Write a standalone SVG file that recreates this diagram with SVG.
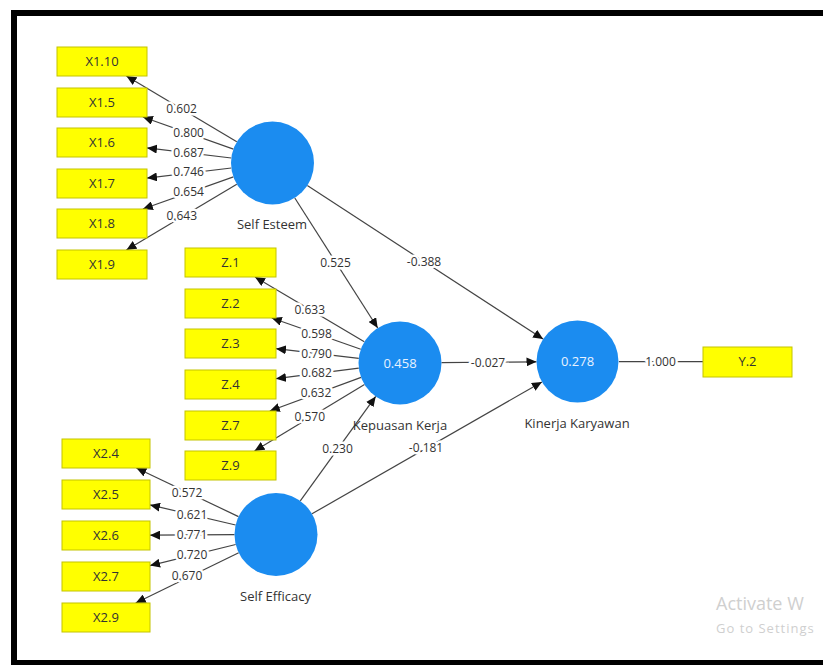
<svg xmlns="http://www.w3.org/2000/svg" width="823" height="665" viewBox="0 0 823 665">
<defs>
<marker id="ah" markerUnits="userSpaceOnUse" markerWidth="11" markerHeight="9" refX="10" refY="4.5" orient="auto">
<path d="M0,0 L10,4.5 L0,9 z" fill="#111"/>
</marker>
<style>
.box{fill:#ffff00;stroke:#c4c400;stroke-width:1}
.bt{font-family:"Open Sans","Noto Sans",sans-serif;font-size:13px;fill:#333;text-anchor:middle}
.lv{fill:#1b8cf0}
.lt{font-family:"Open Sans","Noto Sans",sans-serif;font-size:13px;fill:#333;text-anchor:middle}
.r2{font-family:"Open Sans","Noto Sans",sans-serif;font-size:13px;fill:#e8f2ff;text-anchor:middle}
.c{stroke:#444;stroke-width:1.2;fill:none}
.a{marker-end:url(#ah)}
.w{font-family:"Open Sans","Noto Sans",sans-serif;font-size:12px;fill:#333;text-anchor:middle;stroke:#fff;stroke-width:5;paint-order:stroke;stroke-linejoin:round}
.wm{font-family:"Open Sans","Noto Sans",sans-serif;fill:#cfcfcf}
</style>
</defs>
<rect x="0" y="0" width="823" height="665" fill="#fff"/>
<rect x="14" y="13" width="840" height="650" fill="#fff" stroke="#000" stroke-width="6"/>

<g id="connectors">
<line class="c a" x1="236.8" y1="141.8" x2="126.4" y2="76"/>
<line class="c a" x1="233.4" y1="149.1" x2="142.9" y2="117"/>
<line class="c a" x1="231.3" y1="158" x2="147" y2="147.9"/>
<line class="c a" x1="231.3" y1="168" x2="147" y2="178.1"/>
<line class="c a" x1="233.4" y1="176.9" x2="142.9" y2="209"/>
<line class="c a" x1="236.8" y1="184.2" x2="126.4" y2="250"/>

<line class="c a" x1="364.3" y1="341.8" x2="255" y2="277"/>
<line class="c a" x1="360.8" y1="349.3" x2="271.8" y2="318"/>
<line class="c a" x1="358.8" y1="358.3" x2="276" y2="348.7"/>
<line class="c a" x1="358.8" y1="368.2" x2="276" y2="378.7"/>
<line class="c a" x1="361.1" y1="377.4" x2="269.8" y2="411"/>
<line class="c a" x1="364.5" y1="384.5" x2="254.5" y2="451"/>

<line class="c a" x1="238.5" y1="516.6" x2="136.4" y2="468"/>
<line class="c a" x1="235.6" y1="525" x2="150" y2="504.9"/>
<line class="c a" x1="234.5" y1="534.7" x2="150" y2="535.2"/>
<line class="c a" x1="235.7" y1="544.5" x2="150" y2="565.6"/>
<line class="c a" x1="238.7" y1="552.7" x2="135.7" y2="603"/>

<line class="c a" x1="294.8" y1="198" x2="377.7" y2="328"/>
<line class="c a" x1="307.3" y1="185.6" x2="543.1" y2="339.1"/>
<line class="c a" x1="441.5" y1="362.6" x2="536.5" y2="361.8"/>
<line class="c a" x1="300.3" y1="500.9" x2="375.7" y2="396.4"/>
<line class="c a" x1="312" y1="513.8" x2="541.9" y2="381.9"/>
<line class="c" x1="619" y1="361.6" x2="703" y2="361.6"/>

<text class="w" x="181.6" y="113">0.602</text>
<text class="w" x="188.6" y="137">0.800</text>
<text class="w" x="188.6" y="157">0.687</text>
<text class="w" x="188.6" y="176">0.746</text>
<text class="w" x="188.6" y="196">0.654</text>
<text class="w" x="181.8" y="220">0.643</text>

<text class="w" x="309.8" y="314">0.633</text>
<text class="w" x="316.5" y="338">0.598</text>
<text class="w" x="316.5" y="358">0.790</text>
<text class="w" x="316.5" y="377">0.682</text>
<text class="w" x="316" y="397">0.632</text>
<text class="w" x="309.8" y="421">0.570</text>

<text class="w" x="187" y="497">0.572</text>
<text class="w" x="192" y="519">0.621</text>
<text class="w" x="192" y="539">0.771</text>
<text class="w" x="192" y="559">0.720</text>
<text class="w" x="187" y="580">0.670</text>

<text class="w" x="335.5" y="267">0.525</text>
<text class="w" x="424" y="266">-0.388</text>
<text class="w" x="488" y="367">-0.027</text>
<text class="w" x="337.5" y="453">0.230</text>
<text class="w" x="426" y="452">-0.181</text>
<text class="w" x="660.5" y="366">1.000</text>
</g>

<g id="X1.10"><rect class="box" x="57" y="47" width="90" height="29"/><text class="bt" x="102" y="66">X1.10</text></g>
<g id="X1.5"><rect class="box" x="57" y="88" width="90" height="29"/><text class="bt" x="102" y="107">X1.5</text></g>
<g id="X1.6"><rect class="box" x="57" y="128" width="90" height="29"/><text class="bt" x="102" y="147">X1.6</text></g>
<g id="X1.7"><rect class="box" x="57" y="169" width="90" height="29"/><text class="bt" x="102" y="188">X1.7</text></g>
<g id="X1.8"><rect class="box" x="57" y="209" width="90" height="29"/><text class="bt" x="102" y="228">X1.8</text></g>
<g id="X1.9"><rect class="box" x="57" y="250" width="90" height="29"/><text class="bt" x="102" y="269">X1.9</text></g>

<g id="Z.1"><rect class="box" x="185" y="248" width="91" height="29"/><text class="bt" x="230.5" y="267">Z.1</text></g>
<g id="Z.2"><rect class="box" x="185" y="289" width="91" height="29"/><text class="bt" x="230.5" y="308">Z.2</text></g>
<g id="Z.3"><rect class="box" x="185" y="329" width="91" height="29"/><text class="bt" x="230.5" y="348">Z.3</text></g>
<g id="Z.4"><rect class="box" x="185" y="370" width="91" height="29"/><text class="bt" x="230.5" y="389">Z.4</text></g>
<g id="Z.7"><rect class="box" x="185" y="411" width="91" height="29"/><text class="bt" x="230.5" y="430">Z.7</text></g>
<g id="Z.9"><rect class="box" x="185" y="451" width="91" height="29"/><text class="bt" x="230.5" y="470">Z.9</text></g>

<g id="X2.4"><rect class="box" x="62" y="439" width="88" height="29"/><text class="bt" x="106" y="458">X2.4</text></g>
<g id="X2.5"><rect class="box" x="62" y="480" width="88" height="29"/><text class="bt" x="106" y="499">X2.5</text></g>
<g id="X2.6"><rect class="box" x="62" y="521" width="88" height="29"/><text class="bt" x="106" y="540">X2.6</text></g>
<g id="X2.7"><rect class="box" x="62" y="562" width="88" height="29"/><text class="bt" x="106" y="581">X2.7</text></g>
<g id="X2.9"><rect class="box" x="62" y="603" width="88" height="29"/><text class="bt" x="106" y="622">X2.9</text></g>

<g id="Y.2"><rect class="box" x="703" y="347" width="89" height="30"/><text class="bt" x="747.5" y="366">Y.2</text></g>

<g id="SelfEsteem"><circle class="lv" cx="272.5" cy="163" r="41.5"/><text class="lt" x="272" y="229">Self Esteem</text></g>
<g id="KepuasanKerja"><circle class="lv" cx="400" cy="363" r="41.5"/><text class="r2" x="400" y="367.5">0.458</text><text class="lt" x="400" y="430">Kepuasan Kerja</text></g>
<g id="SelfEfficacy"><circle class="lv" cx="276" cy="534.5" r="41.5"/><text class="lt" x="275.5" y="601">Self Efficacy</text></g>
<g id="KinerjaKaryawan"><circle class="lv" cx="577.5" cy="361.5" r="41"/><text class="r2" x="577.5" y="366">0.278</text><text class="lt" x="577" y="428">Kinerja Karyawan</text></g>

<text class="wm" x="716" y="610" font-size="18">Activate W</text>
<text class="wm" x="716" y="633" font-size="13" letter-spacing="1">Go to Settings</text>
</svg>
